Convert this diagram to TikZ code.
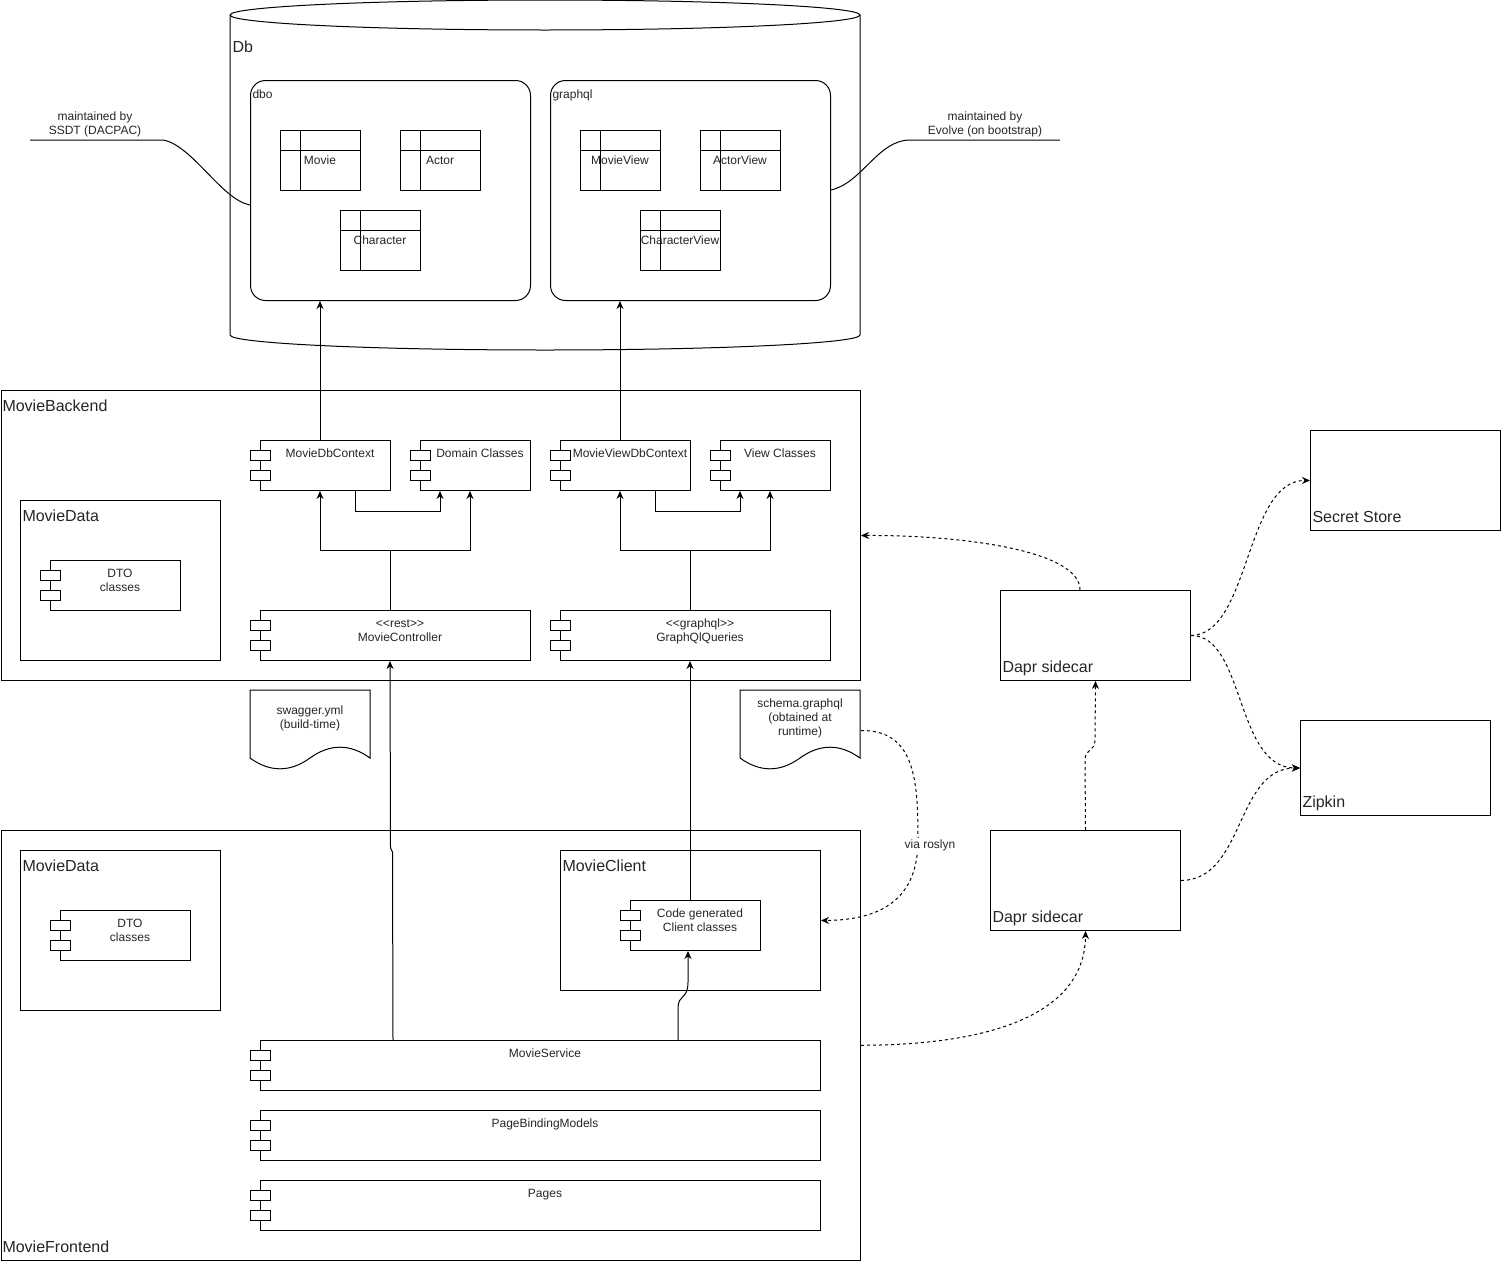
\documentclass[tikz,border=0pt]{standalone}
\usepackage{fontspec}
\setmainfont{Liberation Sans}
\usetikzlibrary{arrows.meta}
\newcommand{\mkcomp}[6]{%
  \node[box, minimum width=#4pt, minimum height=#5pt] (#1) at (#2,#3) {};
  \draw[fill=white] (#2-10,#3+10) rectangle (#2+10,#3+20);
  \draw[fill=white] (#2-10,#3+30) rectangle (#2+10,#3+40);
  \node[sm, anchor=north] (#1-t) at (#2+#4/2+5,#3+7.5) {\strut #6};}
\newcommand{\mktable}[4]{%
  \node[box, minimum width=80pt, minimum height=60pt] (#1) at (#2,#3) {};
  \draw (#2+20,#3) -- (#2+20,#3+60);
  \draw (#2,#3+20) -- (#2+80,#3+20);
  \node[sm] (#1-t) at (#2+40,#3+30) {#4};}
\newcommand{\mkdoc}[4]{%
  \node[inner sep=0pt, minimum width=120pt, minimum height=80pt, anchor=north west] (#1) at (#2,#3) {};
  \draw[fill=white] (#2,#3) -- (#2+120,#3) -- (#2+120,#3+68) .. controls (#2+100,#3+53.6) and (#2+80,#3+53.6) .. (#2+60,#3+68) .. controls (#2+40,#3+82.4) and (#2+20,#3+82.4) .. (#2,#3+68) -- cycle;
  \node[sm] (#1-t) at (#2+60,#3+28.5) {#4};}
\begin{document}
\begin{tikzpicture}[x=1pt,y=-1pt,line width=1pt,
  box/.style={draw, rectangle, inner sep=0pt, anchor=north west, fill=white},
  arr/.style={-{Stealth[length=8pt,width=7pt]}},
  darr/.style={dash pattern=on 3pt off 3pt, -{Stealth[length=8pt,width=7pt]}},
  sm/.style={font=\fontsize{12}{14}\selectfont, inner sep=0pt, align=center, text=black!85},
  big/.style={font=\fontsize{16}{19}\selectfont, inner sep=0pt, anchor=base west, text=black!85}]
\useasboundingbox[fill=white] (0,0) rectangle (1501,1261);

% ---------- Db cylinder ----------
\draw[fill=white] (230,15) -- (230,335) arc[start angle=180, end angle=360, x radius=315pt, y radius=15pt] -- (860,15);
\draw (545,15) ellipse [x radius=315pt, y radius=15pt];
\node[big] (dblabel) at (232,52.7) {Db};

\node[box, rounded corners=15pt, minimum width=280pt, minimum height=220pt] (dbo) at (250,80) {};
\node[sm, anchor=base west] (dbolabel) at (252,98.3) {dbo};
\node[box, rounded corners=15pt, minimum width=280pt, minimum height=220pt] (gql) at (550,80) {};
\node[sm, anchor=base west] (gqllabel) at (552,98.3) {graphql};

\mktable{tmovie}{280}{130}{Movie}
\mktable{tactor}{400}{130}{Actor}
\mktable{tchar}{340}{210}{Character}
\mktable{tmview}{580}{130}{MovieView}
\mktable{taview}{700}{130}{ActorView}
\mktable{tcview}{640}{210}{CharacterView}

% annotations
\coordinate (annl) at (30,140);
\coordinate (annr) at (1060,140);
\draw (annl) -- (163,140) .. controls (192,145) and (222,200) .. (dbo.west |- 0,205);
\node[sm, anchor=north] (annltxt) at (95,110.5) {\strut maintained by\\SSDT (DACPAC)};
\draw (gql.east |- 0,190) .. controls (862,183) and (878,140) .. (910,140) -- (annr);
\node[sm, anchor=north] (annrtxt) at (985,110.5) {\strut maintained by\\Evolve (on bootstrap)};

% ---------- MovieBackend ----------
\node[box, minimum width=859.5pt, minimum height=290pt] (backend) at (0.5,390) {};
\node[big] (backendlabel) at (2,411.7) {MovieBackend};
\node[box, minimum width=200pt, minimum height=160pt] (bdata) at (20,500) {};
\node[big] (bdatalabel) at (22,521.7) {MovieData};
\mkcomp{bdto}{50}{560}{130}{50}{DTO\\classes}
\mkcomp{mdbc}{260}{440}{130}{50}{MovieDbContext}
\mkcomp{dom}{420}{440}{110}{50}{Domain Classes}
\mkcomp{mvdb}{560}{440}{130}{50}{MovieViewDbContext}
\mkcomp{vcl}{720}{440}{110}{50}{View Classes}
\mkcomp{mctrl}{260}{610}{270}{50}{<{}<rest>{}>\\MovieController}
\mkcomp{gqlq}{560}{610}{270}{50}{<{}<graphql>{}>\\GraphQlQueries}

\draw[arr] ([xshift=60pt]mdbc.north west) -- ([xshift=60pt]mdbc.north west |- dbo.south);
\draw[arr] ([xshift=60pt]mvdb.north west) -- ([xshift=60pt]mvdb.north west |- gql.south);
\draw[arr] ([xshift=95pt]mdbc.south west) -- ++(0,20) -| ([xshift=20pt]dom.south west);
\draw[arr] ([xshift=130pt]mctrl.north west) -- ++(0,-60) -| ([xshift=60pt]mdbc.south west);
\draw[arr] ([xshift=130pt]mctrl.north west) -- ++(0,-60) -| ([xshift=50pt]dom.south west);
\draw[arr] ([xshift=95pt]mvdb.south west) -- ++(0,20) -| ([xshift=20pt]vcl.south west);
\draw[arr] ([xshift=130pt]gqlq.north west) -- ++(0,-60) -| ([xshift=60pt]mvdb.south west);
\draw[arr] ([xshift=130pt]gqlq.north west) -- ++(0,-60) -| ([xshift=50pt]vcl.south west);

% ---------- documents ----------
\mkdoc{swagger}{250}{690}{swagger.yml\\(build-time)}
\mkdoc{schema}{740}{690}{schema.graphql\\(obtained at\\runtime)}

% ---------- MovieFrontend ----------
\node[box, minimum width=859.5pt, minimum height=429.5pt] (frontend) at (0.5,830) {};
\node[big] (frontendlabel) at (2,1252.7) {MovieFrontend};
\node[box, minimum width=200pt, minimum height=160pt] (fdata) at (20,850) {};
\node[big] (fdatalabel) at (22,871.7) {MovieData};
\mkcomp{fdto}{60}{910}{130}{50}{DTO\\classes}
\node[box, minimum width=260pt, minimum height=140pt] (mclient) at (560,850) {};
\node[big] (mclientlabel) at (562,871.7) {MovieClient};
\mkcomp{codegen}{630}{900}{130}{50}{Code generated\\Client classes}
\mkcomp{msvc}{260}{1040}{560}{50}{MovieService}
\mkcomp{pbm}{260}{1110}{560}{50}{PageBindingModels}
\mkcomp{pages}{260}{1180}{560}{50}{Pages}

\draw[arr] ([xshift=133pt]msvc.north west) -- (392.5,852) -- (390.5,848) -- ([xshift=130pt]mctrl.south west);
\draw[arr] ([xshift=418pt]msvc.north west) -- (678,1008) .. controls (678,994) and (688,1000) .. (688,982) -- ([xshift=58pt]codegen.south west);
\draw[arr] ([xshift=60pt]codegen.north west) -- ([xshift=130pt]gqlq.south west);

% ---------- right side ----------
\node[box, minimum width=190pt, minimum height=100pt] (secret) at (1310,430) {};
\node[big] (secretlabel) at (1312,522.7) {Secret Store};
\node[box, minimum width=190pt, minimum height=95pt] (zipkin) at (1300,720) {};
\node[big] (zipkinlabel) at (1302,807.7) {Zipkin};
\node[box, minimum width=190pt, minimum height=90pt] (dapr1) at (1000,590) {};
\node[big] (dapr1label) at (1002,672.7) {Dapr sidecar};
\node[box, minimum width=190pt, minimum height=100pt] (dapr2) at (990,830) {};
\node[big] (dapr2label) at (992,922.7) {Dapr sidecar};

\draw[darr] (schema.east) .. controls (915,730) and (918,780) .. (918,840) .. controls (918,900) and (880,920) .. (mclient.east);
\node[sm, fill=white, inner sep=1pt] (roslyn) at (930,845) {via roslyn};

\draw[darr] ([xshift=80pt]dapr1.north west) .. controls (1080,550) and (960,535) .. (backend.east);
\draw[darr] (dapr1.east) .. controls (1250,635) and (1245,480) .. (secret.west);
\draw[darr] (dapr1.east) .. controls (1245,635) and (1235,768) .. (zipkin.west);
\draw[darr] (dapr2.east) .. controls (1245,880) and (1235,768) .. (zipkin.west);
\draw[darr] (dapr2.north) -- (1085,760) .. controls (1085,748) and (1095,752) .. (1095,740) -- (dapr1.south);
\draw[darr] (frontend.east) .. controls (1000,1045) and (1085,1010) .. (dapr2.south);
\end{tikzpicture}
\end{document}
